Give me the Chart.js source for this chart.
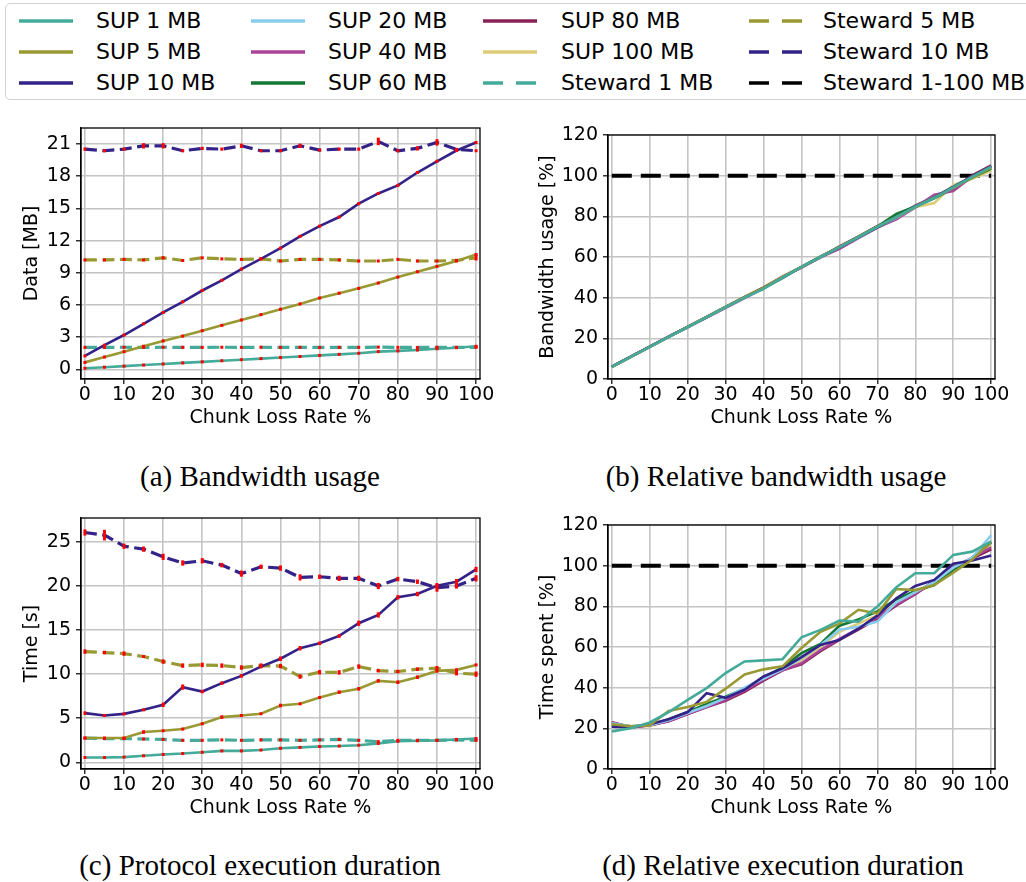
<!DOCTYPE html>
<html>
<head>
<meta charset="utf-8">
<script src="https://cdn.jsdelivr.net/npm/chart.js@4.4.1/dist/chart.umd.min.js"></script>
<style>
  html, body { margin: 0; padding: 0; background: #fff; }
  body { position: relative; width: 1026px; height: 882px; overflow: hidden; font-family: 'DejaVu Sans', sans-serif; }
  canvas { position: absolute; }
  #legend { position: absolute; left: 5px; top: 3px; width: 1060px; height: 97px; box-sizing: border-box;
            border: 1.5px solid #d2d2d2; border-radius: 5px; background: #fff; }
  .entry { position: absolute; white-space: nowrap; }
  .entry svg { position: absolute; top: -4px; }
  .entry span { position: absolute; top: 0; transform: translateY(-50%); font-size: 22px; line-height: 26px; color: #000; }
  .caption { position: absolute; transform: translate(-50%, -50%); white-space: nowrap;
             font-family: 'Liberation Serif', serif; font-size: 29px; color: #000; }
</style>
</head>
<body>
<div id="legend"></div>
<canvas id="chartA" width="520" height="330" style="left:0px;top:110px"></canvas>
<canvas id="chartB" width="506" height="330" style="left:520px;top:110px"></canvas>
<canvas id="chartC" width="520" height="330" style="left:0px;top:500px"></canvas>
<canvas id="chartD" width="506" height="330" style="left:520px;top:500px"></canvas>
<div class="caption" style="left:260px;top:476px">(a) Bandwidth usage</div>
<div class="caption" style="left:776px;top:476px">(b) Relative bandwidth usage</div>
<div class="caption" style="left:260px;top:865px">(c) Protocol execution duration</div>
<div class="caption" style="left:783px;top:865px">(d) Relative execution duration</div>
<script>
// Chunk loss rates (%) used on every x axis
const lossRates = [0, 5, 10, 15, 20, 25, 30, 35, 40, 45, 50, 55, 60, 65, 70, 75, 80, 85, 90, 95, 100];
const xTicks = [0, 10, 20, 30, 40, 50, 60, 70, 80, 90, 100];
const dataTicks = [0, 3, 6, 9, 12, 15, 18, 21];
const timeTicks = [0, 5, 10, 15, 20, 25];
const pctTicks = [0, 20, 40, 60, 80, 100, 120];

// (a) transferred data [MB]
const dataSup1 = [0.10, 0.20, 0.30, 0.40, 0.50, 0.60, 0.70, 0.80, 0.90, 1.00, 1.10, 1.20, 1.30, 1.40, 1.50, 1.65, 1.72, 1.80, 1.92, 2.02, 2.15];
const dataSup5 = [0.65, 1.15, 1.65, 2.15, 2.65, 3.10, 3.60, 4.10, 4.60, 5.10, 5.60, 6.10, 6.65, 7.10, 7.55, 8.05, 8.60, 9.10, 9.60, 10.10, 10.70];
const dataSup10 = [1.25, 2.25, 3.20, 4.25, 5.30, 6.30, 7.35, 8.30, 9.35, 10.30, 11.30, 12.40, 13.35, 14.20, 15.45, 16.40, 17.15, 18.35, 19.40, 20.40, 21.15];
const dataSteward1 = [2.05, 2.05, 2.06, 2.05, 2.06, 2.05, 2.05, 2.06, 2.05, 2.06, 2.05, 2.05, 2.04, 2.05, 2.05, 2.07, 2.05, 2.04, 2.06, 2.05, 2.05];
const dataSteward5 = [10.20, 10.20, 10.25, 10.20, 10.40, 10.15, 10.40, 10.30, 10.25, 10.30, 10.10, 10.25, 10.25, 10.20, 10.10, 10.10, 10.25, 10.10, 10.10, 10.15, 10.40];
const dataSteward10 = [20.53, 20.38, 20.53, 20.84, 20.84, 20.38, 20.60, 20.53, 20.84, 20.38, 20.38, 20.84, 20.44, 20.53, 20.53, 21.25, 20.38, 20.60, 21.16, 20.50, 20.38];
// (a) standard deviations
const dataSup1Err = [0.03, 0.03, 0.03, 0.03, 0.03, 0.03, 0.03, 0.03, 0.03, 0.03, 0.03, 0.03, 0.03, 0.03, 0.03, 0.03, 0.03, 0.03, 0.03, 0.03, 0.03];
const dataSup5Err = [0.05, 0.05, 0.05, 0.05, 0.05, 0.05, 0.05, 0.05, 0.05, 0.05, 0.05, 0.05, 0.05, 0.05, 0.05, 0.05, 0.05, 0.05, 0.05, 0.05, 0.05];
const dataSup10Err = [0.05, 0.05, 0.05, 0.05, 0.05, 0.05, 0.05, 0.05, 0.05, 0.05, 0.05, 0.05, 0.05, 0.05, 0.10, 0.10, 0.05, 0.10, 0.10, 0.05, 0.05];
const dataSteward1Err = [0.05, 0.05, 0.05, 0.05, 0.05, 0.05, 0.05, 0.05, 0.05, 0.05, 0.05, 0.05, 0.05, 0.05, 0.05, 0.05, 0.05, 0.05, 0.05, 0.05, 0.05];
const dataSteward5Err = [0.10, 0.10, 0.12, 0.10, 0.15, 0.10, 0.12, 0.10, 0.10, 0.10, 0.08, 0.10, 0.10, 0.10, 0.08, 0.08, 0.12, 0.08, 0.08, 0.10, 0.25];
const dataSteward10Err = [0.15, 0.08, 0.12, 0.25, 0.25, 0.10, 0.15, 0.15, 0.20, 0.08, 0.08, 0.20, 0.10, 0.15, 0.15, 0.35, 0.10, 0.20, 0.30, 0.15, 0.10];

// (b) bandwidth relative to Steward [%]
const relBwSup1 = [6.0, 10.9, 15.8, 20.7, 25.5, 30.4, 35.3, 40.0, 44.3, 50.0, 55.1, 60.0, 64.9, 69.8, 74.8, 79.7, 84.7, 89.0, 94.2, 99.4, 104.4];
const relBwSup5 = [6.0, 10.9, 15.8, 20.7, 25.6, 30.5, 35.4, 40.2, 44.8, 50.1, 55.0, 60.1, 65.0, 69.9, 74.9, 79.6, 84.6, 89.2, 94.0, 99.2, 104.0];
const relBwSup10 = [6.1, 11.0, 15.9, 20.8, 25.6, 30.4, 35.3, 40.1, 44.9, 50.0, 55.0, 60.0, 64.8, 69.7, 74.6, 79.6, 84.8, 89.4, 94.5, 99.6, 104.6];
const relBwSup20 = [6.0, 10.9, 15.8, 20.6, 25.5, 30.4, 35.2, 40.0, 44.7, 49.9, 55.0, 60.0, 64.7, 69.6, 74.6, 79.2, 84.6, 89.5, 94.4, 99.4, 104.2];
const relBwSup40 = [6.0, 10.9, 15.8, 20.7, 25.4, 30.2, 35.0, 39.8, 44.6, 50.2, 54.8, 59.8, 64.0, 69.3, 74.5, 78.5, 84.4, 90.6, 92.5, 99.6, 104.5];
const relBwSup60 = [6.0, 10.9, 15.8, 20.7, 25.5, 30.4, 35.3, 40.2, 44.6, 49.6, 55.1, 60.2, 64.9, 70.0, 75.0, 81.2, 84.8, 88.8, 93.8, 99.0, 103.5];
const relBwSup80 = [6.1, 11.0, 15.9, 20.8, 25.6, 30.5, 35.4, 40.3, 44.8, 50.1, 55.0, 59.9, 65.2, 70.0, 75.2, 80.0, 85.2, 89.5, 93.5, 100.2, 105.0];
const relBwSup100 = [6.0, 10.9, 15.9, 20.8, 25.7, 30.6, 35.5, 40.4, 45.2, 50.6, 55.3, 60.3, 65.0, 69.8, 74.3, 79.5, 84.5, 86.5, 95.5, 98.5, 102.5];
const relSteward = [100, 100, 100, 100, 100, 100, 100, 100, 100, 100, 100, 100, 100, 100, 100, 100, 100, 100, 100, 100, 100];

// (c) protocol execution time [s]
const timeSup1 = [0.55, 0.55, 0.60, 0.75, 0.90, 1.00, 1.15, 1.30, 1.30, 1.40, 1.60, 1.70, 1.80, 1.85, 1.95, 2.15, 2.40, 2.45, 2.50, 2.60, 2.70];
const timeSup5 = [2.76, 2.76, 2.76, 3.44, 3.59, 3.78, 4.38, 5.13, 5.32, 5.51, 6.45, 6.64, 7.36, 7.96, 8.34, 9.24, 9.09, 9.66, 10.37, 10.49, 11.05];
const timeSup10 = [5.58, 5.32, 5.50, 5.96, 6.53, 8.53, 8.03, 8.98, 9.80, 10.86, 11.75, 12.94, 13.50, 14.33, 15.77, 16.71, 18.71, 19.08, 20.02, 20.48, 21.87];
const timeSteward1 = [2.75, 2.70, 2.70, 2.65, 2.60, 2.50, 2.50, 2.55, 2.50, 2.55, 2.55, 2.50, 2.55, 2.60, 2.50, 2.35, 2.50, 2.50, 2.50, 2.55, 2.50];
const timeSteward5 = [12.56, 12.45, 12.33, 12.00, 11.43, 10.97, 11.05, 10.97, 10.75, 10.97, 10.92, 9.73, 10.22, 10.20, 10.86, 10.40, 10.30, 10.56, 10.68, 10.11, 10.00];
const timeSteward10 = [26.06, 25.76, 24.50, 24.17, 23.30, 22.60, 22.85, 22.36, 21.40, 22.17, 22.02, 20.97, 21.04, 20.86, 20.86, 19.99, 20.78, 20.48, 19.80, 20.00, 20.86];
// (c) standard deviations
const timeSup1Err = [0.05, 0.05, 0.05, 0.05, 0.05, 0.05, 0.05, 0.05, 0.05, 0.05, 0.05, 0.05, 0.05, 0.05, 0.05, 0.05, 0.05, 0.05, 0.05, 0.05, 0.05];
const timeSup5Err = [0.15, 0.10, 0.10, 0.20, 0.15, 0.15, 0.15, 0.20, 0.15, 0.10, 0.20, 0.15, 0.15, 0.20, 0.20, 0.20, 0.20, 0.20, 0.20, 0.15, 0.15];
const timeSup10Err = [0.20, 0.15, 0.15, 0.15, 0.25, 0.30, 0.20, 0.20, 0.20, 0.20, 0.25, 0.25, 0.20, 0.20, 0.30, 0.30, 0.25, 0.25, 0.30, 0.30, 0.30];
const timeSteward1Err = [0.06, 0.06, 0.06, 0.06, 0.06, 0.06, 0.06, 0.06, 0.06, 0.06, 0.06, 0.06, 0.06, 0.06, 0.06, 0.06, 0.06, 0.06, 0.06, 0.06, 0.06];
const timeSteward5Err = [0.25, 0.20, 0.25, 0.15, 0.25, 0.25, 0.25, 0.25, 0.25, 0.25, 0.25, 0.25, 0.25, 0.25, 0.25, 0.20, 0.20, 0.20, 0.25, 0.25, 0.30];
const timeSteward10Err = [0.35, 0.60, 0.30, 0.30, 0.35, 0.30, 0.30, 0.25, 0.35, 0.25, 0.30, 0.35, 0.25, 0.30, 0.30, 0.35, 0.25, 0.25, 0.45, 0.30, 0.35];

// (d) execution time relative to Steward [%]
const relTimeSup1 = [18.5, 20.0, 22.9, 28.0, 34.0, 39.8, 47.2, 52.9, 53.4, 54.0, 64.8, 68.4, 73.0, 72.5, 79.9, 89.4, 96.3, 96.3, 105.3, 106.9, 112.0];
const relTimeSup5 = [22.0, 21.0, 21.5, 28.5, 30.5, 33.0, 39.5, 46.5, 49.0, 50.5, 59.5, 67.5, 71.5, 78.3, 76.5, 88.5, 88.0, 90.5, 96.5, 103.0, 112.0];
const relTimeSup10 = [20.8, 20.5, 22.0, 24.5, 28.0, 37.3, 35.0, 39.0, 45.5, 49.5, 55.0, 61.0, 63.5, 69.0, 75.5, 84.0, 90.0, 93.0, 101.0, 102.5, 105.0];
const relTimeSup20 = [22.5, 21.0, 21.5, 24.0, 27.5, 31.0, 35.0, 40.0, 44.5, 49.0, 54.5, 61.0, 68.5, 70.0, 72.5, 82.0, 87.0, 92.0, 99.0, 104.0, 115.0];
const relTimeSup40 = [23.0, 20.5, 21.5, 23.5, 27.0, 30.5, 34.0, 38.5, 44.0, 48.5, 52.0, 58.5, 64.0, 69.0, 74.5, 81.0, 86.0, 92.5, 99.0, 104.0, 109.0];
const relTimeSup60 = [22.0, 21.0, 21.5, 24.5, 28.0, 32.0, 35.5, 39.5, 45.0, 50.0, 57.0, 61.5, 70.5, 73.5, 77.5, 83.5, 87.5, 90.5, 98.0, 104.0, 111.5];
const relTimeSup80 = [23.0, 20.5, 21.5, 23.5, 27.0, 30.5, 33.5, 38.0, 43.5, 48.5, 51.5, 58.0, 63.5, 68.5, 74.0, 80.5, 86.0, 92.5, 99.5, 103.5, 108.0];
const relTimeSup100 = [22.5, 21.0, 21.0, 24.0, 27.5, 31.5, 35.0, 39.0, 44.0, 48.5, 53.5, 60.0, 67.5, 71.5, 75.5, 83.0, 86.5, 91.0, 97.0, 104.0, 110.0];

// Series colours
const C = {
  teal: '#44AA99', olive: '#999933', indigo: '#332288', cyan: '#88CCEE',
  purple: '#AA4499', green: '#117733', wine: '#882255', sand: '#DDCC77', black: '#000000'
};
const DASH = [12, 5.5];

const legendEntries = [
  ['SUP 1 MB', C.teal, false], ['SUP 5 MB', C.olive, false], ['SUP 10 MB', C.indigo, false],
  ['SUP 20 MB', C.cyan, false], ['SUP 40 MB', C.purple, false], ['SUP 60 MB', C.green, false],
  ['SUP 80 MB', C.wine, false], ['SUP 100 MB', C.sand, false], ['Steward 1 MB', C.teal, true],
  ['Steward 5 MB', C.olive, true], ['Steward 10 MB', C.indigo, true], ['Steward 1-100 MB', C.black, true]
];

// Legend: three rows per column
(function buildLegend() {
  const lineX = [13, 245, 477, 743];
  const textX = [90, 322, 555, 817];
  const rowY = [17, 48, 79];
  const box = document.getElementById('legend');
  legendEntries.forEach(([name, color, dashed], k) => {
    const col = Math.floor(k / 3), row = k % 3;
    const e = document.createElement('div');
    e.className = 'entry';
    e.style.left = '0px';
    e.style.top = rowY[row] + 'px';
    const dash = dashed ? ' stroke-dasharray="20 13"' : '';
    e.innerHTML =
      '<svg width="54" height="8" style="left:' + lineX[col] + 'px"><line x1="0" y1="4" x2="54" y2="4" stroke="' +
      color + '" stroke-width="3.6"' + dash + '/></svg>' +
      '<span style="left:' + textX[col] + 'px">' + name + '</span>';
    box.appendChild(e);
  });
})();

function series(values, color, dashed, errors, width) {
  return {
    data: lossRates.map((x, i) => ({ x: x, y: values[i] })),
    borderColor: color,
    borderWidth: width || (dashed ? 3.2 : 2.6),
    borderDash: dashed ? DASH : [],
    errors: errors || null,
    fill: false
  };
}
function stewardRef() {
  return {
    data: lossRates.map((x, i) => ({ x: x, y: relSteward[i] })),
    borderColor: C.black, borderWidth: 4, borderDash: [20, 9], fill: false
  };
}

// Red error bars on top of the lines, then the full axes frame
const errorBarsAndFrame = {
  id: 'errorBarsAndFrame',
  afterDatasetsDraw(chart) {
    const { ctx, chartArea: a, scales } = chart;
    ctx.save();
    ctx.beginPath();
    ctx.rect(a.left, a.top, a.right - a.left, a.bottom - a.top);
    ctx.clip();
    ctx.strokeStyle = '#ff0000';
    ctx.lineWidth = 3;
    chart.data.datasets.forEach(ds => {
      if (!ds.errors) return;
      ds.data.forEach((p, j) => {
        const x = scales.x.getPixelForValue(p.x);
        let y1 = scales.y.getPixelForValue(p.y - ds.errors[j]);
        let y2 = scales.y.getPixelForValue(p.y + ds.errors[j]);
        if (y1 - y2 < 3) { const m = (y1 + y2) / 2; y1 = m + 1.5; y2 = m - 1.5; }
        ctx.beginPath(); ctx.moveTo(x, y1); ctx.lineTo(x, y2); ctx.stroke();
      });
    });
    ctx.restore();
    ctx.save();
    ctx.strokeStyle = '#000';
    ctx.lineWidth = 1.3;
    ctx.strokeRect(a.left, a.top, a.right - a.left, a.bottom - a.top);
    ctx.restore();
  }
};

const tickFont = { family: 'DejaVu Sans', size: 19 };
const gridColor = '#c4c4c4';

function buildChart(id, p) {
  return new Chart(document.getElementById(id), {
    type: 'line',
    data: { datasets: p.datasets },
    options: {
      responsive: false,
      animation: false,
      devicePixelRatio: 1,
      layout: { padding: p.padding },
      plugins: { legend: { display: false }, tooltip: { enabled: false } },
      elements: { point: { radius: 0 }, line: { tension: 0 } },
      scales: {
        x: {
          type: 'linear', min: -1, max: 101,
          afterBuildTicks: s => { s.ticks = xTicks.map(v => ({ value: v })); },
          afterFit: s => { s.height = 61; },
          ticks: { autoSkip: false, maxRotation: 0, padding: 0, color: '#000', font: tickFont },
          grid: { color: gridColor, lineWidth: 1.6, tickLength: 5, tickColor: '#000', tickWidth: 1.2 },
          border: { color: '#000', width: 1.3 },
          title: { display: true, text: 'Chunk Loss Rate %', color: '#000', font: tickFont, padding: { top: 0, bottom: 10.6 } }
        },
        y: {
          type: 'linear', min: p.yMin, max: p.yMax,
          afterBuildTicks: s => { s.ticks = p.yTicks.map(v => ({ value: v })); },
          afterFit: s => { s.width = p.yWidth; },
          ticks: { autoSkip: false, padding: 5, color: '#000', font: tickFont },
          grid: { color: gridColor, lineWidth: 1.6, tickLength: 5, tickColor: '#000', tickWidth: 1.2 },
          border: { color: '#000', width: 1.3 },
          title: { display: true, text: p.yTitle, color: '#000', font: tickFont, padding: { top: p.yTitlePad, bottom: 0 } }
        }
      }
    },
    plugins: [errorBarsAndFrame]
  });
}

buildChart('chartA', {
  padding: { top: 18, right: 40, bottom: 0, left: 0 },
  yMin: -0.9, yMax: 22.5, yTicks: dataTicks, yWidth: 81, yTitlePad: 20.3, yTitle: 'Data [MB]',
  datasets: [
    series(dataSup1, C.teal, false, dataSup1Err),
    series(dataSup5, C.olive, false, dataSup5Err),
    series(dataSup10, C.indigo, false, dataSup10Err),
    series(dataSteward1, C.teal, true, dataSteward1Err),
    series(dataSteward5, C.olive, true, dataSteward5Err),
    series(dataSteward10, C.indigo, true, dataSteward10Err)
  ]
});

buildChart('chartB', {
  padding: { top: 25, right: 31, bottom: 0, left: 0 },
  yMin: 0, yMax: 120, yTicks: pctTicks, yWidth: 88, yTitlePad: 16.9, yTitle: 'Bandwidth usage [%]',
  datasets: [
    series(relBwSup1, C.teal, false, null, 2.6),
    series(relBwSup5, C.olive, false, null, 2.6),
    series(relBwSup10, C.indigo, false, null, 2.6),
    series(relBwSup20, C.cyan, false, null, 2.6),
    series(relBwSup40, C.purple, false, null, 2.6),
    series(relBwSup60, C.green, false, null, 2.6),
    series(relBwSup80, C.wine, false, null, 2.6),
    series(relBwSup100, C.sand, false, null, 2.6),
    stewardRef()
  ]
});

buildChart('chartC', {
  padding: { top: 18, right: 40, bottom: 0, left: 0 },
  yMin: -0.75, yMax: 27.7, yTicks: timeTicks, yWidth: 81, yTitlePad: 20.3, yTitle: 'Time [s]',
  datasets: [
    series(timeSup1, C.teal, false, timeSup1Err),
    series(timeSup5, C.olive, false, timeSup5Err),
    series(timeSup10, C.indigo, false, timeSup10Err),
    series(timeSteward1, C.teal, true, timeSteward1Err),
    series(timeSteward5, C.olive, true, timeSteward5Err),
    series(timeSteward10, C.indigo, true, timeSteward10Err)
  ]
});

buildChart('chartD', {
  padding: { top: 25, right: 31, bottom: 0, left: 0 },
  yMin: 0, yMax: 120, yTicks: pctTicks, yWidth: 88, yTitlePad: 16.9, yTitle: 'Time spent [%]',
  datasets: [
    series(relTimeSup1, C.teal, false, null, 2.6),
    series(relTimeSup5, C.olive, false, null, 2.6),
    series(relTimeSup10, C.indigo, false, null, 2.6),
    series(relTimeSup20, C.cyan, false, null, 2.6),
    series(relTimeSup40, C.purple, false, null, 2.6),
    series(relTimeSup60, C.green, false, null, 2.6),
    series(relTimeSup80, C.wine, false, null, 2.6),
    series(relTimeSup100, C.sand, false, null, 2.6),
    stewardRef()
  ]
});
</script>
</body>
</html>
